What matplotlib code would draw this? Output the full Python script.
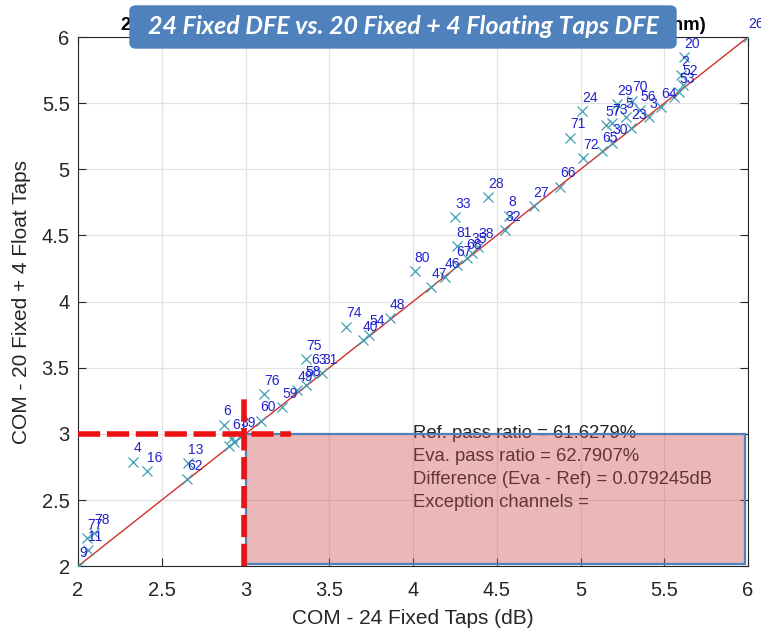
import matplotlib
matplotlib.use("Agg")
import matplotlib.pyplot as plt
from matplotlib.patches import Rectangle, FancyBboxPatch

plt.rcParams['font.family'] = ['Liberation Sans', 'DejaVu Sans']

# channel results: COM with 24 fixed taps (x) vs 20 fixed + 4 floating taps (y)
com_fixed = [2.006, 2.06, 2.054, 2.096, 2.33, 2.41, 2.657, 2.65, 2.87, 2.92,
             2.97, 2.90, 2.93, 3.09, 3.11, 3.22, 3.31, 3.36, 3.36, 3.39,
             3.457, 3.60, 3.70, 3.74, 3.86, 4.01, 4.11, 4.19, 4.26, 4.32,
             4.26, 4.35, 4.39, 4.25, 4.45, 4.57, 4.55, 4.72, 4.88, 5.015,
             4.94, 5.01, 5.13, 5.19, 5.15, 5.19, 5.22, 5.27, 5.30, 5.31,
             5.355, 5.41, 5.48, 5.56, 5.59, 5.61, 5.60, 5.62, 6.0]
com_float = [2.0, 2.12, 2.21, 2.25, 2.79, 2.72, 2.78, 2.66, 3.07, 2.97,
             2.98, 2.91, 2.94, 3.10, 3.30, 3.20, 3.33, 3.37, 3.565, 3.46,
             3.46, 3.81, 3.71, 3.75, 3.875, 4.23, 4.11, 4.185, 4.275, 4.33,
             4.42, 4.37, 4.41, 4.64, 4.79, 4.65, 4.54, 4.72, 4.87, 5.085,
             5.24, 5.44, 5.14, 5.20, 5.335, 5.35, 5.49, 5.395, 5.31, 5.52,
             5.45, 5.395, 5.47, 5.545, 5.585, 5.64, 5.71, 5.85, 6.0]
channel = ['9', '11', '77', '78', '4', '16', '13', '62', '6', '61',
           '39', '', '', '60', '76', '59', '49', '58', '75', '63',
           '31', '74', '40', '54', '48', '80', '47', '46', '67', '68',
           '81', '35', '38', '33', '28', '8', '32', '27', '66', '72',
           '71', '24', '65', '30', '57', '73', '29', '5', '23', '70',
           '56', '3', '64', '', '53', '52', '2', '20', '26']

stats_lines = ['Ref. pass ratio = 61.6279%',
               'Eva. pass ratio = 62.7907%',
               'Difference (Eva - Ref) = 0.079245dB',
               'Exception channels =']
com_limit = 3.0

fig = plt.figure(figsize=(7.61, 6.34), dpi=100)
ax = fig.add_axes([0.1025, 0.107, 0.8805, 0.8346])

ax.plot([2, 6], [2, 6], color='#d0302c', lw=1.0, zorder=2)
ax.plot(com_fixed, com_float, 'x', color='#3d9fb5', ms=7, mew=0.9, zorder=3)
for x, y, s in zip(com_fixed, com_float, channel):
    if s:
        ax.text(x, y + 0.1, s, color='#2222cc', fontsize=10, ha='left',
                va='center', zorder=4, clip_on=False)

# stats text (under the shaded region)
for i, s in enumerate(stats_lines):
    ax.text(4.0, 3.0 - i * 0.172, s, fontsize=13.3, color='#222222',
            ha='left', va='center', zorder=4)

# pass region
ax.add_patch(Rectangle((com_limit, 2.015), 2.98, com_limit - 2.015,
                       facecolor=(0.8, 0.31, 0.31), alpha=0.4,
                       edgecolor='none', zorder=5))
ax.add_patch(Rectangle((com_limit, 2.015), 2.98, com_limit - 2.015,
                       facecolor='none', edgecolor='#4f81bd', lw=1.6, zorder=6))

# limit markers
ax.plot([2, 3.27], [com_limit, com_limit], color='#ee1111', lw=4,
        dashes=(4, 1.2), zorder=7, solid_capstyle='butt')
ax.plot([com_limit - 0.01, com_limit - 0.01], [2, 3.31], color='#ee1111', lw=4,
        dashes=(4, 1.2), zorder=7)

ax.set_xlim(2, 6)
ax.set_ylim(2, 6)
ax.set_xticks([2, 2.5, 3, 3.5, 4, 4.5, 5, 5.5, 6])
ax.set_yticks([2, 2.5, 3, 3.5, 4, 4.5, 5, 5.5, 6])
ax.set_xticklabels(['2', '2.5', '3', '3.5', '4', '4.5', '5', '5.5', '6'])
ax.set_yticklabels(['2', '2.5', '3', '3.5', '4', '4.5', '5', '5.5', '6'])
ax.grid(True, color='#e2e2e2', lw=0.9, zorder=0)
ax.set_axisbelow(True)
ax.tick_params(direction='in', length=6, width=0.8, top=True, right=True,
               labelsize=14.5, colors='#262626')
ax.tick_params(axis='x', pad=11)
ax.tick_params(axis='y', pad=6)
for sp in ax.spines.values():
    sp.set_color('#262626')
    sp.set_linewidth(0.8)

ax.set_xlabel('COM - 24 Fixed Taps (dB)', fontsize=15, color='#262626', labelpad=6)
ax.set_ylabel('COM - 20 Fixed + 4 Float Taps', fontsize=15, color='#262626', labelpad=8)
ax.set_title('24 Fixed vs. 20 Fixed + 4 Floating Taps (COM, Channel Length nm)',
             fontsize=13.4, fontweight='bold', color='black', pad=5)

# banner over the original title
fig.patches.append(FancyBboxPatch((130 / 761, 1 - 48 / 634), 546 / 761, 42 / 634,
                                  boxstyle='round,pad=0,rounding_size=0.008',
                                  transform=fig.transFigure, facecolor='#4f81bd',
                                  edgecolor='#4f81bd', zorder=10))
fig.text(403 / 761, 1 - 26 / 634, '24 Fixed DFE vs. 20 Fixed + 4 Floating Taps DFE',
         fontsize=18, fontweight='bold', fontstyle='italic', color='white',
         family=['Lato', 'DejaVu Sans'], ha='center', va='center', zorder=11)

fig.savefig('out.png', dpi=100)
